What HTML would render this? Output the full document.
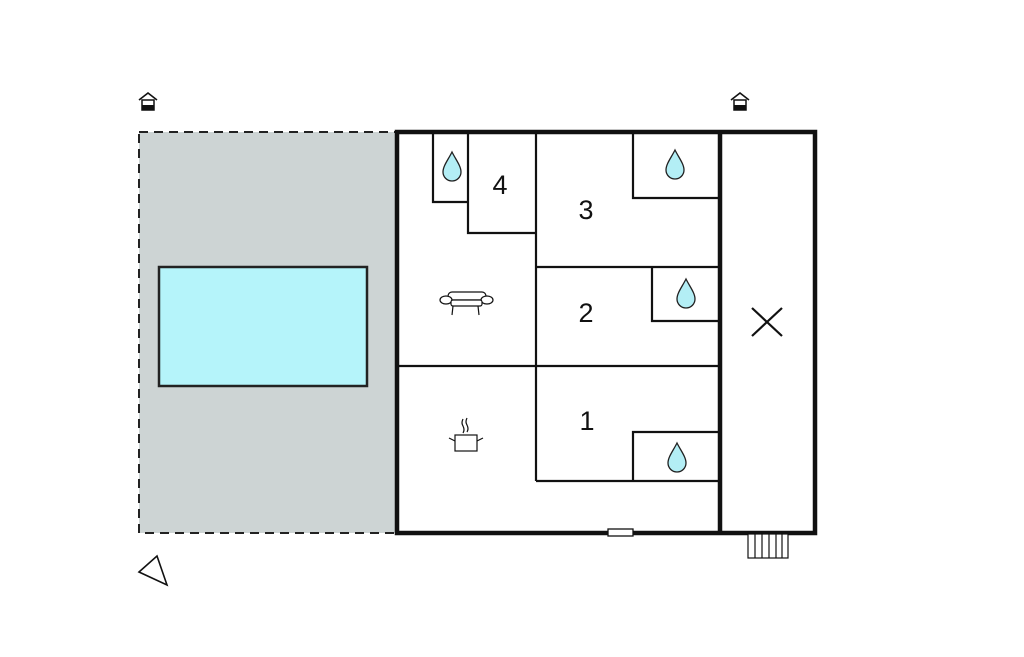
<!DOCTYPE html>
<html><head><style>body{margin:0;background:#fff}</style></head><body>
<svg width="1024" height="652" xmlns="http://www.w3.org/2000/svg" font-family="Liberation Sans, sans-serif">
<defs>
<g id="drop"><path d="M0,-14 C4,-6 9,0 9,6 A9,9 0 0 1 -9,6 C-9,0 -4,-6 0,-14Z" fill="#b3eef5" stroke="#222" stroke-width="1.3"/></g>
<g id="house"><path d="M-9,-2 L0,-9 L9,-2" fill="none" stroke="#111" stroke-width="1.6"/><rect x="-6" y="-2" width="12" height="10" fill="#fff" stroke="#111" stroke-width="1.5"/><rect x="-6" y="3" width="12" height="5" fill="#111"/></g>
</defs>
<rect x="139" y="132" width="257" height="401" fill="#cdd4d4" stroke="#222" stroke-width="2" stroke-dasharray="9,6"/>
<rect x="159" y="267" width="208" height="119" fill="#b5f4fa" stroke="#222" stroke-width="2.5"/>
<rect x="397" y="132" width="418" height="401" fill="#fff" stroke="#111" stroke-width="4.5"/>
<line x1="720" y1="132" x2="720" y2="533" stroke="#111" stroke-width="4.5"/>
<g stroke="#111" stroke-width="2.2" fill="none">
<line x1="536" y1="132" x2="536" y2="481"/>
<line x1="536" y1="267" x2="720" y2="267"/>
<line x1="397" y1="366" x2="720" y2="366"/>
<line x1="536" y1="481" x2="720" y2="481"/>
<polyline points="433,132 433,202 468,202"/>
<polyline points="468,132 468,233 536,233"/>
<polyline points="633,132 633,198 720,198"/>
<polyline points="652,267 652,321 720,321"/>
<polyline points="720,432 633,432 633,481"/>
<line x1="752" y1="308" x2="782" y2="336"/><line x1="782" y1="308" x2="752" y2="336"/>
</g>
<rect x="608" y="529" width="25" height="7" fill="#fff" stroke="#111" stroke-width="1.3"/>
<g stroke="#111" stroke-width="1.2" fill="#fff"><rect x="748" y="534" width="40" height="24"/>
<line x1="755" y1="534" x2="755" y2="558"/><line x1="762" y1="534" x2="762" y2="558"/><line x1="769" y1="534" x2="769" y2="558"/><line x1="776" y1="534" x2="776" y2="558"/><line x1="782" y1="534" x2="782" y2="558"/></g>
<use href="#drop" x="452" y="166"/><use href="#drop" x="675" y="164"/><use href="#drop" x="686" y="293"/><use href="#drop" x="677" y="457"/>
<g font-size="27" fill="#111" text-anchor="middle"><text x="500" y="194">4</text><text x="586" y="219">3</text><text x="586" y="322">2</text><text x="587" y="430">1</text></g>
<g stroke="#111" stroke-width="1.2" fill="#fff">
<rect x="448" y="292" width="38" height="8" rx="4"/><ellipse cx="446" cy="300" rx="6" ry="4"/><ellipse cx="487" cy="300" rx="6" ry="4"/><rect x="451" y="300" width="31" height="6" rx="2"/><line x1="453" y1="306" x2="452" y2="315"/><line x1="478" y1="306" x2="479" y2="315"/>
<rect x="455" y="435" width="22" height="16"/><line x1="449" y1="438" x2="455" y2="441"/><line x1="483" y1="438" x2="477" y2="441"/>
<path d="M463,419 q-2,4 0,7 q2,4 0,7 M467,418 q-2,4 0,7 q2,4 0,7" fill="none"/>
</g>
<use href="#house" x="148" y="102"/><use href="#house" x="740" y="102"/>
<path d="M139,572 L157,556 L167,585 Z" fill="#fff" stroke="#111" stroke-width="1.6"/>
</svg>
</body></html>
